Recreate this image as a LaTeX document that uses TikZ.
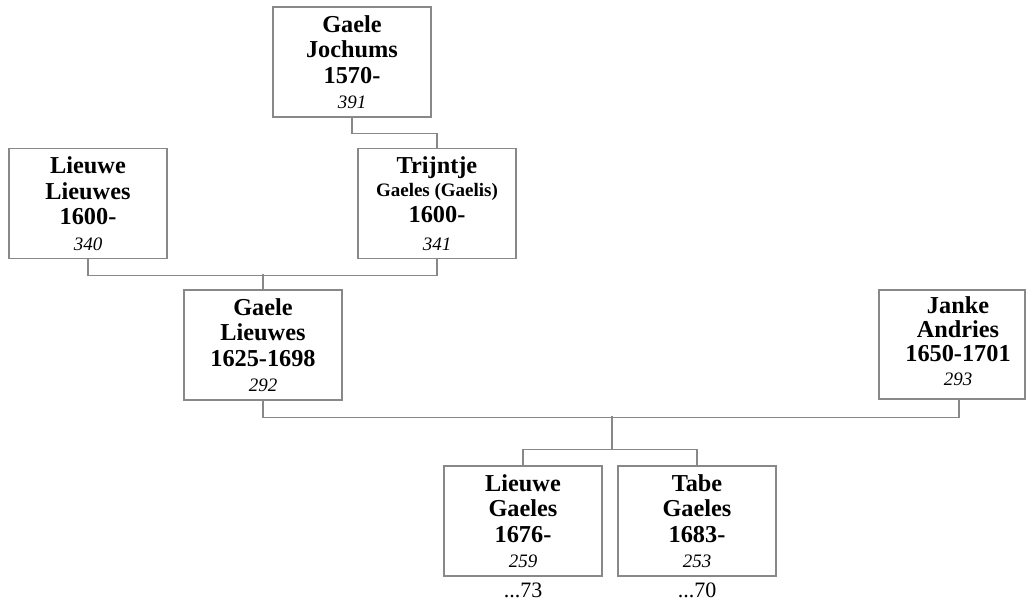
\documentclass[tikz,border=0pt]{standalone}
\usepackage{fontspec}
\setmainfont{Liberation Serif}
\definecolor{linegray}{RGB}{136,136,136}
\tikzset{
  person/.style={draw=linegray, line width=1.3pt, fill=white, minimum width=158pt,
    minimum height=110pt, inner sep=0pt, align=center,
    font=\bfseries\fontsize{24.3}{25.5}\selectfont},
  conn/.style={draw=linegray, line width=1.3pt},
  num/.style={font=\fontsize{22}{24}\selectfont},
}
\newcommand{\idn}[1]{{\mdseries\itshape\fontsize{19}{22}\selectfont #1}}
\newcommand{\subn}[1]{{\fontsize{19}{22}\selectfont #1}}
\begin{document}
\begin{tikzpicture}[x=1pt,y=-1pt]
\useasboundingbox (0,0) rectangle (1026,606);
\node[person] (b1) at (352,62) {Gaele\\Jochums\\1570-\\\idn{391}};
\node[person] (b2) at (88,203.5) {Lieuwe\\Lieuwes\\1600-\\\idn{340}};
\node[person] (b3) at (437,203.5) {Trijntje\\[-2pt]\subn{Gaeles (Gaelis)}\\1600-\\[3pt]\idn{341}};
\node[person] (b4) at (263,345) {Gaele\\Lieuwes\\1625-1698\\\idn{292}};
\node[person, minimum width=146pt, minimum height=109pt] (b5) at (952,344.5)
  {\hspace*{12pt}\begin{tabular}{@{}c@{}}Janke\\[-1.5pt]Andries\\[-1.5pt]1650-1701\\[-1.5pt]\idn{293}\end{tabular}};
\node[person] (b6) at (523,521) {Lieuwe\\Gaeles\\1676-\\\idn{259}};
\node[person] (b7) at (697,521) {Tabe\\Gaeles\\1683-\\\idn{253}};
\node[num] (t73) at (523,590) {...73};
\node[num] (t70) at (697,590) {...70};
\coordinate (m1) at (263,274);
\coordinate (b5a) at (959,399);
\coordinate (m2) at (612,416);
\coordinate (m3) at (612,450);
\draw[conn] (b1.south) -- ++(0,16) -| (b3.north);
\draw[conn] (b2.south) -- ++(0,16) -| (b3.south);
\draw[conn] (m1) -- (b4.north);
\draw[conn] (b4.south) -- ++(0,17) -| (b5a);
\draw[conn] (m2) -- (m3);
\draw[conn] (b6.north) -- ++(0,-16) -| (b7.north);
\end{tikzpicture}
\end{document}
